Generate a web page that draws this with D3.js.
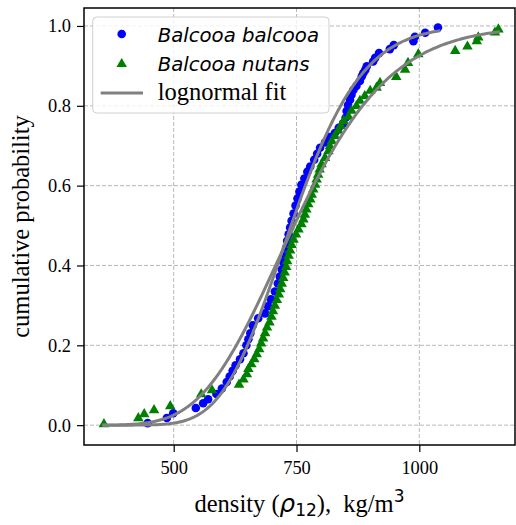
<!DOCTYPE html>
<html>
<head>
<meta charset="utf-8">
<script src="https://cdn.jsdelivr.net/npm/d3@7"></script>
<style>
  html, body { margin: 0; padding: 0; background: #fff; }
  svg { display: block; }
</style>
</head>
<body>
<svg id="chart" width="516" height="525"></svg>
<script>
// ---- data ----
const balcooaX = [447, 486, 499, 545, 560, 570, 587, 598, 608, 614, 620, 626, 635, 642, 648, 652, 656, 661, 672, 686,
  692, 698, 706, 712, 716, 720, 723, 726, 729, 731, 734, 737, 740, 744, 748, 752, 756, 760, 766, 772,
  778, 786, 792, 798, 808, 818, 828, 836, 845, 850, 852, 855, 859, 862, 866, 872, 879, 883, 886, 890,
  893, 906, 910, 918, 940, 948, 988, 991, 1012, 1038];
const balcooaY = [0.005, 0.018, 0.030, 0.043, 0.055, 0.065, 0.078, 0.092, 0.108, 0.122, 0.136, 0.150, 0.165, 0.180, 0.200, 0.215, 0.230, 0.250, 0.268, 0.280,
  0.298, 0.315, 0.335, 0.355, 0.372, 0.390, 0.408, 0.425, 0.445, 0.462, 0.478, 0.495, 0.512, 0.530, 0.550, 0.568, 0.585, 0.602, 0.618, 0.635,
  0.648, 0.665, 0.680, 0.695, 0.708, 0.722, 0.732, 0.745, 0.756, 0.770, 0.787, 0.802, 0.815, 0.828, 0.840, 0.850, 0.862, 0.874, 0.882, 0.890,
  0.899, 0.911, 0.920, 0.932, 0.942, 0.952, 0.962, 0.973, 0.983, 0.996];

const nutansX = [358, 428, 440, 460, 493, 556, 578, 633, 642, 649, 652, 658, 664, 669, 674, 678, 682, 686, 690, 695,
  699, 702, 706, 710, 714, 717, 720, 723, 726, 729, 731, 734, 737, 740, 744, 749, 754, 760, 764, 767,
  770, 774, 778, 781, 784, 788, 791, 794, 797, 801, 808, 815, 818, 822, 828, 835, 840, 846, 856, 862,
  872, 879, 889, 900, 913, 920, 953, 971, 977, 998, 1073, 1098, 1117, 1120, 1154, 1161];
const nutansY = [0.005, 0.020, 0.030, 0.040, 0.050, 0.080, 0.090, 0.104, 0.117, 0.130, 0.143, 0.155, 0.168, 0.180, 0.193, 0.207, 0.220, 0.233, 0.247, 0.260,
  0.274, 0.288, 0.302, 0.316, 0.330, 0.343, 0.357, 0.371, 0.385, 0.399, 0.413, 0.427, 0.440, 0.454, 0.467, 0.480, 0.493, 0.506, 0.518, 0.530,
  0.543, 0.556, 0.568, 0.580, 0.593, 0.605, 0.618, 0.630, 0.643, 0.656, 0.672, 0.689, 0.701, 0.714, 0.727, 0.740, 0.752, 0.764, 0.775, 0.790,
  0.802, 0.815, 0.827, 0.840, 0.848, 0.860, 0.875, 0.893, 0.910, 0.932, 0.940, 0.951, 0.964, 0.974, 0.986, 0.994];

// lognormal fit parameters (median, sigma): [balcooa, nutans]
const fitMedian = [739, 745];
const fitSigma = [0.152, 0.204];
const fitXStart = [358, 358];
const fitXEnd = [1040, 1161];

const xTicks = [500, 750, 1000];
const yTicks = [0.0, 0.2, 0.4, 0.6, 0.8, 1.0];
const seriesNames = ["Balcooa balcooa", "Balcooa nutans"];
const fitLabel = "lognormal fit";

// ---- layout ----
const L = 84, R = 515, T = 8, B = 445;
const svg = d3.select("#chart");
const x = d3.scaleLinear().domain([317.4, 1194.8]).range([L, R]);
const y = d3.scaleLinear().domain([-0.0497, 1.045]).range([B, T]);

svg.append("clipPath").attr("id", "clip").append("rect")
  .attr("x", L).attr("y", T).attr("width", R - L).attr("height", B - T);

// grid
const grid = svg.append("g");
grid.selectAll(".gx").data(xTicks).join("line")
  .attr("x1", d => x(d)).attr("x2", d => x(d)).attr("y1", T).attr("y2", B)
  .attr("stroke", "#b0b0b0").attr("stroke-width", 0.9).attr("stroke-dasharray", "4,2");
grid.selectAll(".gy").data(yTicks).join("line")
  .attr("y1", d => y(d)).attr("y2", d => y(d)).attr("x1", L).attr("x2", R)
  .attr("stroke", "#b0b0b0").attr("stroke-width", 0.9).attr("stroke-dasharray", "4,2");

// points
const plot = svg.append("g").attr("clip-path", "url(#clip)");
const blue = d3.zip(balcooaX, balcooaY);
const green = d3.zip(nutansX, nutansY);
plot.selectAll(".b").data(blue).join("circle")
  .attr("cx", d => x(d[0])).attr("cy", d => y(d[1])).attr("r", 4.3).attr("fill", "#0000ff");
const tri = d3.symbol().type(d3.symbolTriangle).size(48);
plot.selectAll(".g").data(green).join("path")
  .attr("d", tri).attr("transform", d => `translate(${x(d[0])},${y(d[1]) + 1})`).attr("fill", "#008000");

// lognormal fit curves
function erf(z) {
  const s = Math.sign(z); z = Math.abs(z);
  const t = 1 / (1 + 0.3275911 * z);
  const yv = 1 - (((((1.061405429 * t - 1.453152027) * t) + 1.421413741) * t - 0.284496736) * t + 0.254829592) * t * Math.exp(-z * z);
  return s * yv;
}
const line = d3.line().x(d => x(d[0])).y(d => y(d[1]));
[0, 1].forEach(k => {
  const cdf = v => 0.5 * (1 + erf(Math.log(v / fitMedian[k]) / (fitSigma[k] * Math.SQRT2)));
  const a = fitXStart[k], b = fitXEnd[k];
  const pts = d3.range(0, 201).map(i => {
    const v = a + (b - a) * i / 200;
    return [v, cdf(v)];
  });
  plot.append("path").attr("d", line(pts)).attr("fill", "none")
    .attr("stroke", "#808080").attr("stroke-width", 3).attr("stroke-linecap", "square");
});

// frame
svg.append("rect").attr("x", L).attr("y", T).attr("width", R - L).attr("height", B - T)
  .attr("fill", "none").attr("stroke", "#000").attr("stroke-width", 1.5);

// axes
const serif = "'Liberation Serif', 'Times New Roman', serif";
const sans = "'DejaVu Sans', sans-serif";
const xAxis = svg.append("g").attr("transform", `translate(0,${B})`)
  .call(d3.axisBottom(x).tickValues(xTicks).tickSize(7).tickPadding(5).tickFormat(d3.format("d")));
const yAxis = svg.append("g").attr("transform", `translate(${L},0)`)
  .call(d3.axisLeft(y).tickValues(yTicks).tickSize(7).tickPadding(6).tickFormat(d3.format(".1f")));
[xAxis, yAxis].forEach(a => {
  a.select(".domain").remove();
  a.selectAll(".tick line").attr("stroke", "#000").attr("stroke-width", 1.2);
  a.selectAll(".tick text").attr("font-family", serif).attr("font-size", 18.4).attr("fill", "#000");
});
xAxis.selectAll(".tick text").attr("dy", "0.95em");

// axis labels
svg.append("text").attr("transform", `translate(28.5,${(T + B) / 2}) rotate(-90)`)
  .attr("text-anchor", "middle").attr("font-family", serif).attr("font-size", 24.5).attr("fill", "#000")
  .text("cumulative probability");

const xl = svg.append("text").attr("x", (L + R) / 2).attr("y", 512).attr("text-anchor", "middle")
  .attr("font-family", serif).attr("font-size", 24.5).attr("fill", "#000")
  .style("white-space", "pre");
xl.append("tspan").text("density (");
xl.append("tspan").attr("font-family", sans).attr("font-style", "italic").text("ρ");
xl.append("tspan").attr("font-family", sans).attr("font-size", 17).attr("dy", 4).text("12");
xl.append("tspan").attr("dy", -4).text("),\u00a0\u00a0kg/m");
xl.append("tspan").attr("font-family", sans).attr("font-size", 17).attr("dy", -10).text("3");

// legend
const lg = svg.append("g");
lg.append("rect").attr("x", 92.7).attr("y", 17).attr("width", 236.3).attr("height", 96).attr("rx", 4)
  .attr("fill", "#fff").attr("fill-opacity", 0.8).attr("stroke", "#d0d0d0").attr("stroke-width", 1);
lg.append("circle").attr("cx", 121.7).attr("cy", 34).attr("r", 4.3).attr("fill", "#0000ff");
lg.append("path").attr("d", tri).attr("transform", "translate(121.7,64)").attr("fill", "#008000");
lg.append("line").attr("x1", 100.7).attr("x2", 143).attr("y1", 93).attr("y2", 93)
  .attr("stroke", "#808080").attr("stroke-width", 3);
lg.append("text").attr("x", 157.7).attr("y", 41.7).attr("font-family", sans).attr("font-style", "italic")
  .attr("font-size", 19.7).attr("fill", "#000").text(seriesNames[0]);
lg.append("text").attr("x", 157.7).attr("y", 71).attr("font-family", sans).attr("font-style", "italic")
  .attr("font-size", 19.7).attr("fill", "#000").text(seriesNames[1]);
lg.append("text").attr("x", 157.7).attr("y", 100).attr("font-family", serif)
  .attr("font-size", 24.5).attr("fill", "#000").text(fitLabel);
</script>
</body>
</html>
